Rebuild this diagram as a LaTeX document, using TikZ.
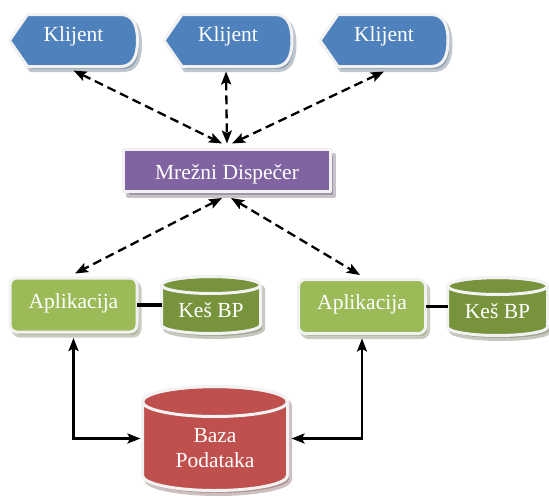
\documentclass[tikz,border=0pt]{standalone}
\usepackage{fontspec}
\setmainfont{Liberation Serif}
\usetikzlibrary{arrows.meta}

\definecolor{kblue}{HTML}{4F81BD}
\definecolor{kpurple}{HTML}{8064A2}
\definecolor{klime}{HTML}{9BBB59}
\definecolor{kolive}{HTML}{77933C}
\definecolor{kred}{HTML}{C0504D}
\definecolor{rimcol}{HTML}{F2F2F2}

\tikzset{
  frame/.style={inner sep=0pt, outer sep=0pt, text=white,
    font=\fontsize{21.5}{25}\selectfont},
  rim/.style={draw=rimcol, line width=3pt, line join=round},
  shade rim/.style={draw=#1!25!gray!45!white, line width=3pt, line join=round,
    fill=#1!40!gray!75!white},
  headtip/.style={>={Stealth[length=13pt,width=10pt,inset=2.5pt]}},
  dasharrow/.style={<->, headtip, line width=2.3pt, dash pattern=on 9pt off 5pt},
  solidarrow/.style={<->, headtip, line width=2.3pt},
  link/.style={line width=3.5pt},
}

% client shape: pointed left end, rounded right end (top-left corner at #1,#2)
\newcommand\clientshape[3]{%
  \begin{scope}[shift={(#1,#2)}]
    \begin{scope}[shift={(3,4)}]
      \filldraw[shade rim=kblue] (0,26) -- (18,0) -- (111,0)
        .. controls (123,0) and (128,10) .. (128,26)
        .. controls (128,42) and (123,52) .. (111,52) -- (18,52) -- cycle;
    \end{scope}
    \filldraw[fill=kblue, rim] (0,26) -- (18,0) -- (111,0)
      .. controls (123,0) and (128,10) .. (128,26)
      .. controls (128,42) and (123,52) .. (111,52) -- (18,52) -- cycle;
    \node[frame, minimum width=128pt, minimum height=52pt,
      text height=14pt, text depth=13pt] (#3) at (64,26) {Klijent};
  \end{scope}}

% drum shape: left, top, width, height, end radius, colour
\newcommand\drumshape[6]{%
  \begin{scope}[shift={(#1,#2)}]
    \begin{scope}[shift={(3,4)}]
      \filldraw[shade rim=#6] (0,#5) -- (0,#4-#5)
        arc[start angle=180, end angle=0, x radius=#3/2, y radius=#5]
        -- (#3,#5)
        arc[start angle=0, end angle=-180, x radius=#3/2, y radius=#5] -- cycle;
    \end{scope}
    \filldraw[fill=#6, rim] (0,#5) -- (0,#4-#5)
      arc[start angle=180, end angle=0, x radius=#3/2, y radius=#5]
      -- (#3,#5)
      arc[start angle=0, end angle=-180, x radius=#3/2, y radius=#5] -- cycle;
    \draw[rim] (#3/2,#5) ellipse[x radius=#3/2, y radius=#5];
  \end{scope}}

\begin{document}
\begin{tikzpicture}[x=1pt, y=-1pt]
\useasboundingbox (0,0) rectangle (549,498);

% clients
\clientshape{9.5}{14.5}{k1}
\clientshape{164}{14.5}{k2}
\clientshape{320}{14.5}{k3}

% dispatcher
\filldraw[shade rim=kpurple] (127.5,154.5) rectangle (334.5,196.5);
\node[frame, fill=kpurple, rim, minimum width=207pt, minimum height=42pt,
  text height=17pt, text depth=0pt] (disp) at (227,170.5) {Mrežni Dispečer};

% application servers
\filldraw[shade rim=klime, rounded corners=7pt] (13,282) rectangle (140,336);
\node[frame, rectangle, rounded corners=7pt, fill=klime, rim,
  minimum width=127pt, minimum height=54pt,
  text height=14pt, text depth=8pt] (a1) at (73.5,305) {Aplikacija};
\filldraw[shade rim=klime, rounded corners=7pt] (301.5,283.5) rectangle (428.5,337.5);
\node[frame, rectangle, rounded corners=7pt, fill=klime, rim,
  minimum width=127pt, minimum height=54pt,
  text height=14pt, text depth=8pt] (a2) at (362,306.5) {Aplikacija};

% caches
\drumshape{161.5}{276.5}{99}{57}{8.5}{kolive}
\node[frame, minimum width=99pt, minimum height=57pt,
  text height=24pt, text depth=0pt] (c1) at (211,305) {Keš BP};
\drumshape{447.5}{277.5}{100}{58}{8.5}{kolive}
\node[frame, minimum width=100pt, minimum height=58pt,
  text height=24pt, text depth=0pt] (c2) at (497.5,306.5) {Keš BP};

% database
\drumshape{142.5}{386.5}{145}{104}{15}{kred}
\node[frame, minimum width=145pt, minimum height=104pt,
  label={[name=dbtext, frame, align=center, yshift=-10pt]center:Baza\\Podataka}]
  (db) at (215,438.5) {};

% client <-> dispatcher
\draw[dasharrow] ([yshift=-4pt]k1.south) -- ([xshift=-5pt,yshift=6pt]disp.north);
\draw[dasharrow] ([xshift=-2pt,yshift=-5pt]k2.south) -- ([yshift=6pt]disp.north);
\draw[dasharrow] ([yshift=-5pt]k3.south) -- ([xshift=5pt,yshift=6pt]disp.north);

% dispatcher <-> applications
\draw[dasharrow] ([xshift=-5pt,yshift=-6.5pt]disp.south) -- ([xshift=1.5pt,yshift=4.5pt]a1.north);
\draw[dasharrow] ([xshift=4pt,yshift=-6.5pt]disp.south) -- ([xshift=-2pt,yshift=4.5pt]a2.north);

% applications <-> caches
\draw[link] (a1.east) -- (c1.west);
\draw[link] (a2.east) -- (c2.west);

% applications <-> database
\draw[solidarrow] ([yshift=-6pt]a1.south) |- ([xshift=-2pt]db.west);
\draw[solidarrow] ([yshift=-5pt]a2.south) |- ([xshift=4pt]db.east);
\end{tikzpicture}
\end{document}
